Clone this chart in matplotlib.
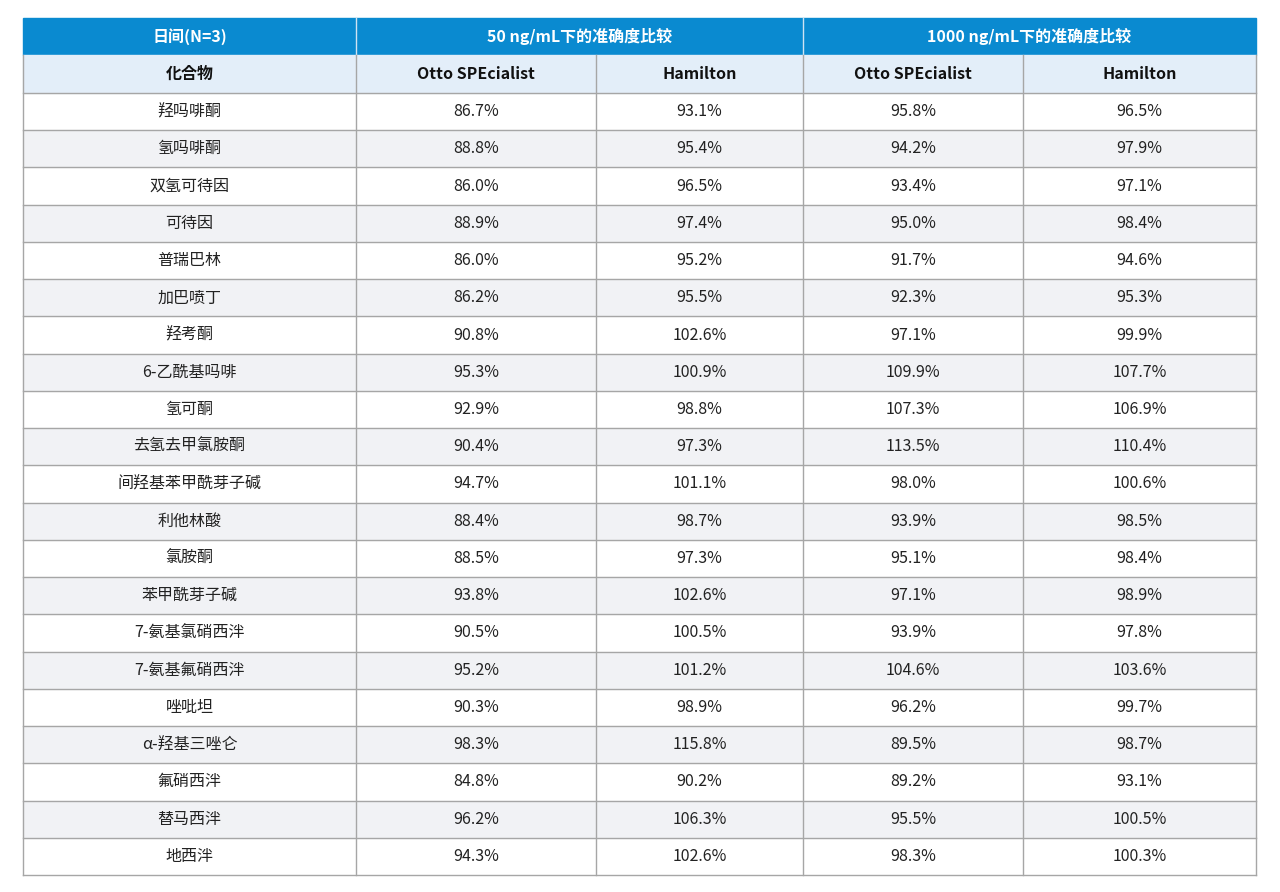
import matplotlib.pyplot as plt
from matplotlib import font_manager
from matplotlib.patches import Rectangle

# pick whatever CJK family is installed, fall back through the list
cjk = sorted({f.name for f in font_manager.fontManager.ttflist if 'CJK' in f.name})
pref = [n for n in ['Noto Sans CJK SC', 'Noto Sans CJK JP', 'Noto Sans CJK TC',
                    'Noto Sans CJK KR'] if n in cjk] + cjk
plt.rcParams['font.family'] = pref + ['DejaVu Sans']

compounds = ["羟吗啡酮", "氢吗啡酮", "双氢可待因", "可待因", "普瑞巴林", "加巴喷丁", "羟考酮",
             "6-乙酰基吗啡", "氢可酮", "去氢去甲氯胺酮", "间羟基苯甲酰芽子碱", "利他林酸", "氯胺酮",
             "苯甲酰芽子碱", "7-氨基氯硝西泮", "7-氨基氟硝西泮", "唑吡坦", "α-羟基三唑仑",
             "氟硝西泮", "替马西泮", "地西泮"]
otto_50 = [86.7, 88.8, 86.0, 88.9, 86.0, 86.2, 90.8, 95.3, 92.9, 90.4, 94.7, 88.4, 88.5,
           93.8, 90.5, 95.2, 90.3, 98.3, 84.8, 96.2, 94.3]
ham_50 = [93.1, 95.4, 96.5, 97.4, 95.2, 95.5, 102.6, 100.9, 98.8, 97.3, 101.1, 98.7, 97.3,
          102.6, 100.5, 101.2, 98.9, 115.8, 90.2, 106.3, 102.6]
otto_1000 = [95.8, 94.2, 93.4, 95.0, 91.7, 92.3, 97.1, 109.9, 107.3, 113.5, 98.0, 93.9, 95.1,
             97.1, 93.9, 104.6, 96.2, 89.5, 89.2, 95.5, 98.3]
ham_1000 = [96.5, 97.9, 97.1, 98.4, 94.6, 95.3, 99.9, 107.7, 106.9, 110.4, 100.6, 98.5, 98.4,
            98.9, 97.8, 103.6, 99.7, 98.7, 93.1, 100.5, 100.3]
sub_headers = ["化合物", "Otto SPEcialist", "Hamilton", "Otto SPEcialist", "Hamilton"]

W, H = 1280, 892
fig = plt.figure(figsize=(W / 100, H / 100), dpi=100)
ax = fig.add_axes([0, 0, 1, 1])
ax.set_xlim(0, W)
ax.set_ylim(H, 0)
ax.axis('off')

xs = [23, 356, 596, 803, 1023, 1256]
top, h1, h2 = 18, 55, 93
bottom = 875
rh = (bottom - h2) / len(compounds)
line = '#a6a6a6'
fs = 11.5

# header row 1
ax.add_patch(Rectangle((xs[0], top), xs[-1] - xs[0], h1 - top, color='#0a8ad0'))
for x0, x1, t in [(xs[0], xs[1], "日间(N=3)"), (xs[1], xs[3], "50 ng/mL下的准确度比较"),
                  (xs[3], xs[5], "1000 ng/mL下的准确度比较")]:
    ax.text((x0 + x1) / 2, (top + h1) / 2, t, ha='center', va='center', color='white',
            fontsize=fs, fontweight='bold')
for x in (xs[1], xs[3]):
    ax.plot([x, x], [top, h1], color='#cfe3f3', lw=1)

# header row 2
ax.add_patch(Rectangle((xs[0], h1), xs[-1] - xs[0], h2 - h1, color='#e3eef9'))
for i, t in enumerate(sub_headers):
    ax.text((xs[i] + xs[i + 1]) / 2, (h1 + h2) / 2, t, ha='center', va='center',
            fontsize=fs, fontweight='bold', color='#111111')

# data rows
for r, name in enumerate(compounds):
    y0 = h2 + r * rh
    if r % 2 == 1:
        ax.add_patch(Rectangle((xs[0], y0), xs[-1] - xs[0], rh, color='#f1f2f5'))
    vals = [name] + [f"{v[r]:.1f}%" for v in (otto_50, ham_50, otto_1000, ham_1000)]
    for i, t in enumerate(vals):
        ax.text((xs[i] + xs[i + 1]) / 2, y0 + rh / 2, t, ha='center', va='center',
                fontsize=fs, color='#222222')
    ax.plot([xs[0], xs[-1]], [y0 + rh, y0 + rh], color=line, lw=1)

ax.plot([xs[0], xs[-1]], [h2, h2], color=line, lw=1)
for x in xs:
    ax.plot([x, x], [h1, bottom], color=line, lw=1)

fig.savefig('out.png', dpi=100)
